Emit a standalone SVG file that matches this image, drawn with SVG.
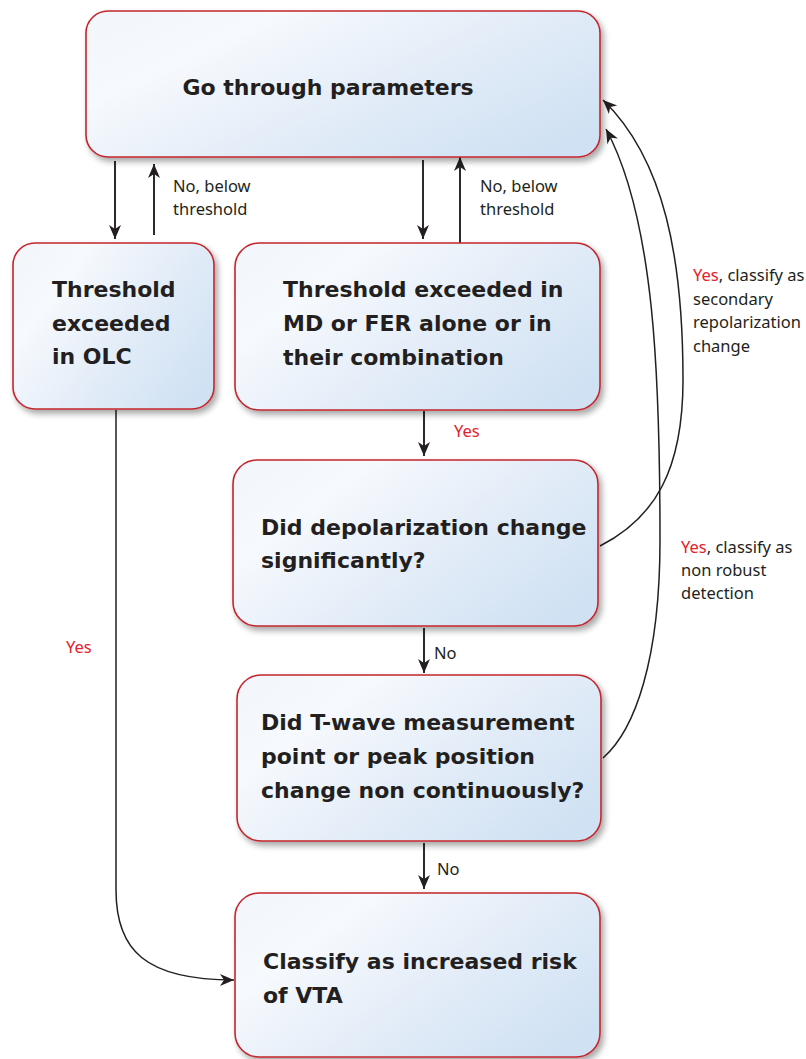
<svg xmlns="http://www.w3.org/2000/svg" width="806" height="1059" viewBox="0 0 806 1059">
<style>
.box{fill:url(#bg);stroke:#c4262e;stroke-width:1.6;filter:url(#sh)}
.t{font-family:"DejaVu Sans","Verdana",sans-serif;font-weight:bold;font-size:22px;fill:#231f20}
.l{font-family:"Noto Sans","Open Sans",sans-serif;font-size:16.5px;fill:#231f20}
.r{fill:#e4222c}
.c{fill:none;stroke:#231f20;stroke-width:1.9}
.cv{fill:none;stroke:#231f20;stroke-width:1.5}
</style>
<defs>
<linearGradient id="bg" x1="0" y1="0.2" x2="1" y2="0.8">
<stop offset="0" stop-color="#f3f7fc"/>
<stop offset="0.2" stop-color="#f6f9fd"/>
<stop offset="0.55" stop-color="#e4edf8"/>
<stop offset="1" stop-color="#cfe1f3"/>
</linearGradient>
<filter id="sh" x="-10%" y="-10%" width="125%" height="130%">
<feGaussianBlur in="SourceAlpha" stdDeviation="3"/>
<feOffset dx="3" dy="4" result="o"/>
<feComponentTransfer><feFuncA type="linear" slope="0.35"/></feComponentTransfer>
<feMerge><feMergeNode/><feMergeNode in="SourceGraphic"/></feMerge>
</filter>
<marker id="ah" viewBox="-15 -7 16 14" refX="0" refY="0" markerWidth="16" markerHeight="14" markerUnits="userSpaceOnUse" orient="auto">
<path d="M0,0 L-14,-6 L-10,0 L-14,6 Z" fill="#231f20"/>
</marker>
</defs>

<g id="connectors">
<line class="c" x1="115" y1="161" x2="115" y2="239" marker-end="url(#ah)"/>
<line class="c" x1="154" y1="235" x2="154" y2="164" marker-end="url(#ah)"/>
<line class="c" x1="423" y1="160" x2="423" y2="239" marker-end="url(#ah)"/>
<line class="c" x1="460" y1="243" x2="460" y2="157" marker-end="url(#ah)"/>
<line class="c" x1="424" y1="411" x2="424" y2="456" marker-end="url(#ah)"/>
<line class="c" x1="424" y1="628" x2="424" y2="673" marker-end="url(#ah)"/>
<line class="c" x1="424" y1="843" x2="424" y2="889" marker-end="url(#ah)"/>
<path class="cv" d="M116,410 L116,890 C116,950 145,980 234,980" marker-end="url(#ah)"/>
<path class="cv" d="M600,546 C655,518 683,470 683,380 C683,260 665,160 603,100" marker-end="url(#ah)"/>
<path class="cv" d="M603,758 C635,730 660,660 660,540 C660,380 655,220 606,129" marker-end="url(#ah)"/>
<text class="l" x="173" y="192">No, below</text>
<text class="l" x="173" y="215">threshold</text>
<text class="l" x="480" y="192">No, below</text>
<text class="l" x="480" y="215">threshold</text>
<text class="l r" x="454" y="437">Yes</text>
<text class="l" x="434" y="659">No</text>
<text class="l" x="437" y="875">No</text>
<text class="l r" x="66" y="653">Yes</text>
<text class="l" x="693" y="281"><tspan class="r">Yes</tspan>, classify as</text>
<text class="l" x="693" y="304.5">secondary</text>
<text class="l" x="693" y="328">repolarization</text>
<text class="l" x="693" y="351.5">change</text>
<text class="l" x="681" y="553"><tspan class="r">Yes</tspan>, classify as</text>
<text class="l" x="681" y="576">non robust</text>
<text class="l" x="681" y="599">detection</text>
</g>

<g id="n-params">
<rect class="box" x="86" y="11" width="514" height="146" rx="22"/>
<text class="t" x="328" y="95" text-anchor="middle">Go through parameters</text>
</g>
<g id="n-olc">
<rect class="box" x="13" y="243" width="201" height="166" rx="22"/>
<text class="t" x="52" y="297">Threshold</text>
<text class="t" x="52" y="331">exceeded</text>
<text class="t" x="52" y="364">in OLC</text>
</g>
<g id="n-mdfer">
<rect class="box" x="235" y="243" width="365" height="167" rx="24"/>
<text class="t" x="283" y="297">Threshold exceeded in</text>
<text class="t" x="283" y="331">MD or FER alone or in</text>
<text class="t" x="283" y="365">their combination</text>
</g>
<g id="n-depol">
<rect class="box" x="233" y="460" width="365" height="166" rx="24"/>
<text class="t" x="261" y="535">Did depolarization change</text>
<text class="t" x="261" y="568">significantly?</text>
</g>
<g id="n-twave">
<rect class="box" x="237" y="675" width="364" height="166" rx="24"/>
<text class="t" x="261" y="730">Did T-wave measurement</text>
<text class="t" x="261" y="764">point or peak position</text>
<text class="t" x="261" y="798">change non continuously?</text>
</g>
<g id="n-vta">
<rect class="box" x="235" y="893" width="365" height="164" rx="24"/>
<text class="t" x="263" y="969">Classify as increased risk</text>
<text class="t" x="263" y="1003">of VTA</text>
</g>
</svg>
